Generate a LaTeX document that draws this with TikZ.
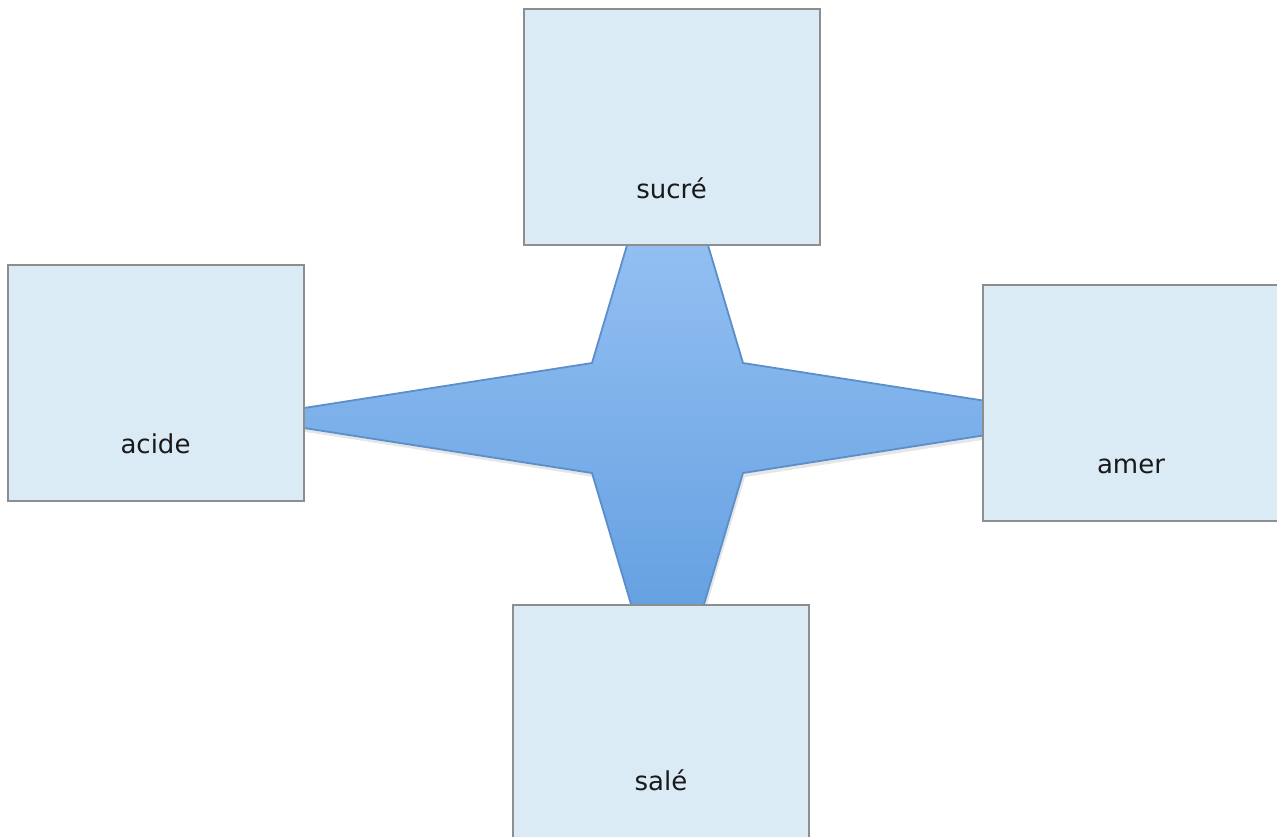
\documentclass[tikz,border=0pt]{standalone}
\usepackage{fontspec}
\setmainfont{DejaVu Sans}
\usepackage{tikz}
\usetikzlibrary{positioning,shadows}
\definecolor{boxfill}{HTML}{DAEBF6}
\definecolor{boxline}{HTML}{8E8E8E}
\definecolor{startop}{HTML}{A3CAF8}
\definecolor{starbot}{HTML}{5797DC}
\definecolor{starline}{HTML}{5B8FCC}
\tikzset{
    tastebox/.style={draw=boxline, line width=2pt, fill=boxfill, minimum width=296pt, minimum height=236pt, inner sep=0pt},
    tastelabel/.style={anchor=base, text=black!90, font=\fontsize{26}{30}\selectfont}
}

\begin{document}
\begin{tikzpicture}[x=1pt,y=-1pt]
    \useasboundingbox (0,0) rectangle (1277,836);
    \clip (0,0) rectangle (1277,836);

    % Star
    \draw[starline, line width=1.8pt, top color=startop, bottom color=starbot,
          drop shadow={opacity=0.2, shadow xshift=2pt, shadow yshift=-4pt}]
        (667.5,109) -- (743,363) -- (1095,418) -- (743,473) -- (667.5,727)
        -- (592,473) -- (240,418) -- (592,363) -- cycle;

    % Boxes
    \node[tastebox] (sucre) at (671.5,127) {};
    \node[tastebox] (acide) at (155.5,382.5) {};
    \node[tastebox, minimum width=304pt] (amer) at (1135,402.5) {};
    \node[tastebox] (sale) at (661,722.5) {};

    \node[tastelabel] at ([yshift=48pt]sucre.south) {sucré};
    \node[tastelabel] at ([yshift=48pt]acide.south) {acide};
    \node[tastelabel] at ([xshift=-4pt,yshift=48pt]amer.south) {amer};
    \node[tastelabel] at ([yshift=51pt]sale.south) {salé};
\end{tikzpicture}
\end{document}
